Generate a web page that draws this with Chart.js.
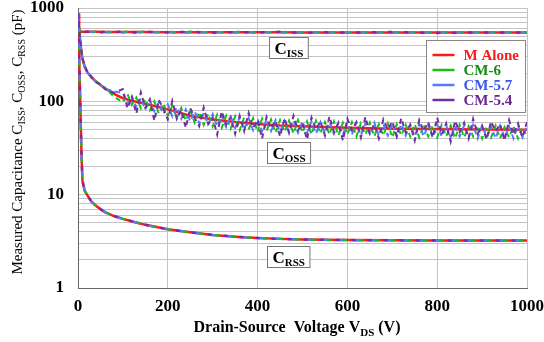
<!DOCTYPE html>
<html>
<head>
<meta charset="utf-8">
<script src="https://cdn.jsdelivr.net/npm/chart.js@4.4.1/dist/chart.umd.min.js"></script>
<style>
  html, body { margin: 0; padding: 0; background: #fff; }
  #wrap { width: 544px; height: 342px; }
</style>
</head>
<body>
<div id="wrap"><canvas id="chart" width="544" height="342"></canvas></div>
<script>
// Drain-source voltage grids (V)
const vdsCoarse = [0, 2, 4, 6, 8, 10, 15, 20, 30, 40, 50, 60, 80, 100, 125, 150, 200, 250, 300, 350, 400, 450, 500, 550, 600, 700, 800, 900, 1000];
const vdsFine = [0, 2, 4, 6, 8, 10, 15, 20, 30, 40, 50, 60, 80,
  100, 110, 120, 130, 140, 150, 160, 170, 180, 190, 200, 210, 220, 230, 240, 250, 260, 270, 280, 290,
  300, 310, 320, 330, 340, 350, 360, 370, 380, 390, 400, 410, 420, 430, 440, 450, 460, 470, 480, 490,
  500, 510, 520, 530, 540, 550, 560, 570, 580, 590, 600, 610, 620, 630, 640, 650, 660, 670, 680, 690,
  700, 710, 720, 730, 740, 750, 760, 770, 780, 790, 800, 810, 820, 830, 840, 850, 860, 870, 880, 890,
  900, 910, 920, 930, 940, 950, 960, 970, 980, 990, 1000];

const seriesNames = ['M Alone', 'CM-6', 'CM-5.7', 'CM-5.4'];

// Ciss (pF) on vdsCoarse
const cissM = [880, 600, 565, 560, 558, 557, 556, 556, 555, 555, 555, 554, 554, 553, 553, 552, 551, 551, 550, 550, 549, 549, 548, 548, 547, 547, 546, 546, 545];
const ciss6 = [885, 605, 560, 565, 552, 561, 550, 560, 549, 559, 552, 558, 548, 557, 549, 556, 546, 555, 547, 554, 545, 553, 544, 552, 543, 551, 542, 550, 544];
const ciss57 = [875, 598, 568, 556, 562, 553, 559, 551, 558, 550, 557, 549, 556, 548, 555, 547, 554, 546, 553, 545, 552, 544, 551, 543, 550, 542, 549, 543, 547];
const ciss54 = [890, 610, 562, 563, 555, 560, 552, 558, 550, 561, 548, 556, 551, 559, 546, 554, 549, 557, 544, 552, 547, 555, 542, 550, 545, 553, 541, 548, 546];

// Coss (pF): M Alone on vdsCoarse, CM series on vdsFine
const cossM = [880, 650, 500, 400, 330, 285, 235, 208, 180, 163, 150, 138, 120, 108, 100, 94, 82, 70, 64, 60, 57, 55, 54, 53, 52, 51, 50.5, 50, 49.5];
const coss6 = [880, 660, 505, 405, 335, 288, 238, 210, 178, 165, 148, 140, 112,
  98, 120, 92, 110, 84, 106, 80, 100, 74, 95, 70, 90, 66, 85, 62, 80, 59, 77, 56, 74,
  54, 72, 52, 70, 51, 69, 49, 67, 50, 66, 47, 65, 48, 64, 46, 63, 47, 62, 45, 63,
  46, 61, 44, 62, 45, 60, 44, 61, 43, 59, 44, 60, 42, 58, 44, 59, 42, 57, 43, 58,
  41, 57, 43, 56, 42, 57, 41, 56, 42, 55, 41, 56, 42, 55, 40, 56, 41, 54, 42, 55,
  40, 54, 41, 55, 40, 53, 41, 54, 40, 53, 42];
const coss57 = [875, 645, 495, 398, 328, 282, 233, 206, 182, 161, 152, 136, 128,
  122, 94, 113, 86, 108, 82, 103, 78, 97, 73, 93, 69, 87, 65, 82, 61, 78, 58, 75, 56,
  73, 54, 71, 53, 69, 52, 67, 50, 66, 49, 65, 48, 64, 48, 63, 47, 62, 47, 62, 46,
  61, 46, 61, 45, 60, 46, 60, 45, 59, 44, 60, 44, 59, 43, 58, 44, 59, 43, 57, 43,
  58, 42, 57, 43, 56, 42, 57, 42, 56, 41, 57, 42, 55, 41, 56, 42, 55, 41, 56, 40,
  55, 41, 54, 40, 55, 41, 54, 40, 55, 41, 54];
const coss54 = [885, 655, 502, 402, 332, 286, 240, 212, 184, 160, 153, 135, 124,
  135, 84, 111, 74, 125, 85, 105, 62, 103, 84, 64, 101, 65, 81, 52, 85, 66, 54, 86, 57,
  67, 44, 78, 56, 68, 45, 70, 48, 75, 52, 63, 40, 68, 51, 62, 42, 66, 46, 70, 49,
  58, 39, 67, 50, 61, 43, 69, 47, 59, 38, 65, 49, 60, 41, 68, 45, 57, 40, 64, 50,
  61, 42, 66, 46, 56, 38, 63, 48, 60, 41, 67, 44, 58, 37, 62, 47, 59, 40, 65, 45,
  55, 39, 61, 48, 57, 38, 63, 44, 58, 41, 60];

// Crss (pF) on vdsCoarse
const crssM = [850, 380, 160, 60, 25, 14, 11, 10, 8.4, 7.6, 7.0, 6.5, 5.9, 5.5, 5.1, 4.75, 4.25, 3.95, 3.7, 3.55, 3.43, 3.36, 3.31, 3.28, 3.26, 3.24, 3.23, 3.23, 3.22];
const crss6 = [855, 385, 162, 61, 25, 14, 11, 10, 8.4, 7.6, 7.0, 6.5, 5.9, 5.5, 5.1, 4.75, 4.25, 3.95, 3.7, 3.55, 3.43, 3.36, 3.31, 3.28, 3.26, 3.24, 3.23, 3.23, 3.22];
const crss57 = [845, 375, 158, 59, 24, 14, 11, 10, 8.4, 7.6, 7.0, 6.5, 5.9, 5.5, 5.1, 4.75, 4.25, 3.95, 3.7, 3.55, 3.43, 3.36, 3.31, 3.28, 3.26, 3.24, 3.23, 3.23, 3.22];
const crss54 = [850, 380, 160, 60, 25, 14, 11, 10, 8.4, 7.6, 7.0, 6.5, 5.9, 5.5, 5.1, 4.75, 4.25, 3.95, 3.7, 3.55, 3.43, 3.36, 3.31, 3.28, 3.26, 3.24, 3.23, 3.23, 3.22];

// axis ticks
const xTicks = [0, 200, 400, 600, 800, 1000];
const yGrid = [1, 2, 3, 4, 5, 6, 7, 8, 9, 10, 20, 30, 40, 50, 60, 70, 80, 90, 100, 200, 300, 400, 500, 600, 700, 800, 900, 1000];
const yLabels = [1, 10, 100, 1000];

// styles per series
const lineColors = ['#ff1a1a', '#16c016', '#5a78ff', '#7030a0'];
const textColors = ['#ff1a1a', '#128c12', '#3a58f0', '#6a2890'];
const dashes = [[], [4, 12], [4, 12], [4, 12]];
const dashOffsets = [0, 0, 4, 8];
const orders = [4, 3, 2, 1];

const SERIF = '"Liberation Serif", "Times New Roman", serif';

function pts(xs, ys) {
    return ys.map((y, i) => ({ x: xs[i], y: y }));
}

const cissAll = [cissM, ciss6, ciss57, ciss54];
const cossAll = [cossM, coss6, coss57, coss54];
const crssAll = [crssM, crss6, crss57, crss54];

const datasets = [];
seriesNames.forEach((name, i) => {
    const base = {
        label: name,
        borderColor: lineColors[i],
        borderWidth: 2.5,
        borderDash: dashes[i],
        borderDashOffset: dashOffsets[i],
        pointRadius: 0,
        tension: 0,
        fill: false,
        order: orders[i]
    };
    datasets.push(Object.assign({}, base, { data: pts(vdsCoarse, cissAll[i]) }));
    datasets.push(Object.assign({}, base, {
        data: pts(i === 0 ? vdsCoarse : vdsFine, cossAll[i]),
        borderWidth: i === 0 ? 2.5 : 2,
        borderDash: i === 0 ? [] : [5, 4]
    }));
    datasets.push(Object.assign({}, base, { data: pts(vdsCoarse, crssAll[i]) }));
});

// text with subscripts: parts = [[text, isSub], ...]
function richWidth(ctx, parts, size, subSize, weight) {
    let w = 0;
    parts.forEach(p => {
        ctx.font = weight + ' ' + (p[1] ? subSize : size) + 'px ' + SERIF;
        w += ctx.measureText(p[0]).width;
    });
    return w;
}
function drawRich(ctx, parts, x, y, size, subSize, weight, color) {
    ctx.fillStyle = color;
    ctx.textAlign = 'left';
    ctx.textBaseline = 'alphabetic';
    let cx = x;
    parts.forEach(p => {
        ctx.font = weight + ' ' + (p[1] ? subSize : size) + 'px ' + SERIF;
        ctx.fillText(p[0], cx, p[1] ? y + size * 0.22 : y);
        cx += ctx.measureText(p[0]).width;
    });
}

const boxLabels = [
    { parts: [['C', false], ['ISS', true]], x: 468, y: 375 },
    { parts: [['C', false], ['OSS', true]], x: 468, y: 28 },
    { parts: [['C', false], ['RSS', true]], x: 468, y: 2.15 }
];

const decorPlugin = {
    id: 'decor',
    afterDatasetsDraw(chart) {
        const ctx = chart.ctx;
        const xs = chart.scales.x, ys = chart.scales.y;
        const area = chart.chartArea;
        ctx.save();

        // labelled boxes
        boxLabels.forEach(b => {
            const w = richWidth(ctx, b.parts, 17, 11, 'bold') + 10;
            const h = 21;
            const cx = xs.getPixelForValue(b.x), cy = ys.getPixelForValue(b.y);
            const bx = Math.round(cx - w / 2) + 0.5, by = Math.round(cy - h / 2) + 0.5;
            ctx.fillStyle = '#fff';
            ctx.fillRect(bx, by, w, h);
            ctx.strokeStyle = '#777';
            ctx.lineWidth = 1;
            ctx.setLineDash([]);
            ctx.strokeRect(bx, by, w, h);
            drawRich(ctx, b.parts, bx + 5, by + 16, 17, 11, 'bold', '#000');
        });

        // legend box
        const lx = area.right - 100.5, ly = area.top + 32.5, lw = 99, lh = 72;
        ctx.fillStyle = '#fff';
        ctx.fillRect(lx, ly, lw, lh);
        ctx.strokeStyle = '#888';
        ctx.lineWidth = 1;
        ctx.strokeRect(lx, ly, lw, lh);
        seriesNames.forEach((name, i) => {
            const rowY = ly + 14.5 + i * 15;
            ctx.strokeStyle = lineColors[i];
            ctx.lineWidth = 2.5;
            ctx.beginPath();
            ctx.moveTo(lx + 6, rowY);
            ctx.lineTo(lx + 28, rowY);
            ctx.stroke();
            ctx.fillStyle = textColors[i];
            ctx.font = 'bold 15px ' + SERIF;
            ctx.textAlign = 'left';
            ctx.textBaseline = 'middle';
            ctx.fillText(name, lx + 37, rowY + 1);
        });

        // axis titles
        const xt = [['Drain-Source  Voltage V', false], ['DS', true], [' (V)', false]];
        const xw = richWidth(ctx, xt, 16, 11, 'bold');
        drawRich(ctx, xt, 297 - xw / 2, 332, 16, 11, 'bold', '#000');

        const yt = [['Measured Capacitance C', false], ['ISS', true], [', C', false], ['OSS', true], [', C', false], ['RSS', true], [' (pF)', false]];
        const yw = richWidth(ctx, yt, 15, 10, 'normal');
        ctx.translate(22, 142);
        ctx.rotate(-Math.PI / 2);
        drawRich(ctx, yt, -yw / 2, 0, 15, 10, 'normal', '#000');
        ctx.restore();
    }
};

const tickFont = { family: SERIF, size: 17, weight: 'bold' };

function noPad(s) {
    s.paddingLeft = 0;
    s.paddingRight = 0;
    s.paddingTop = 0;
    s.paddingBottom = 0;
}

new Chart(document.getElementById('chart'), {
    type: 'line',
    data: { datasets: datasets },
    options: {
        responsive: false,
        animation: false,
        devicePixelRatio: 1,
        layout: { padding: { left: 0, right: 17, top: 8, bottom: 0 }, autoPadding: false },
        plugins: { legend: { display: false }, tooltip: { enabled: false } },
        scales: {
            x: {
                type: 'linear',
                min: 0,
                max: 1000,
                afterBuildTicks: s => { s.ticks = xTicks.map(v => ({ value: v })); },
                afterFit: s => { s.height = 54; noPad(s); },
                ticks: { font: tickFont, color: '#000', padding: 8, maxRotation: 0, callback: v => String(v) },
                grid: { color: '#c4c4c4', drawTicks: false },
                border: { color: '#666' }
            },
            y: {
                type: 'logarithmic',
                min: 1,
                max: 1000,
                afterBuildTicks: s => { s.ticks = yGrid.map(v => ({ value: v })); },
                afterFit: s => { s.width = 78; noPad(s); },
                ticks: {
                    autoSkip: false,
                    font: tickFont,
                    color: '#000',
                    padding: 14,
                    callback: v => yLabels.includes(v) ? String(v) : ''
                },
                grid: { color: '#c4c4c4', drawTicks: false },
                border: { color: '#666' }
            }
        }
    },
    plugins: [decorPlugin]
});
</script>
</body>
</html>
